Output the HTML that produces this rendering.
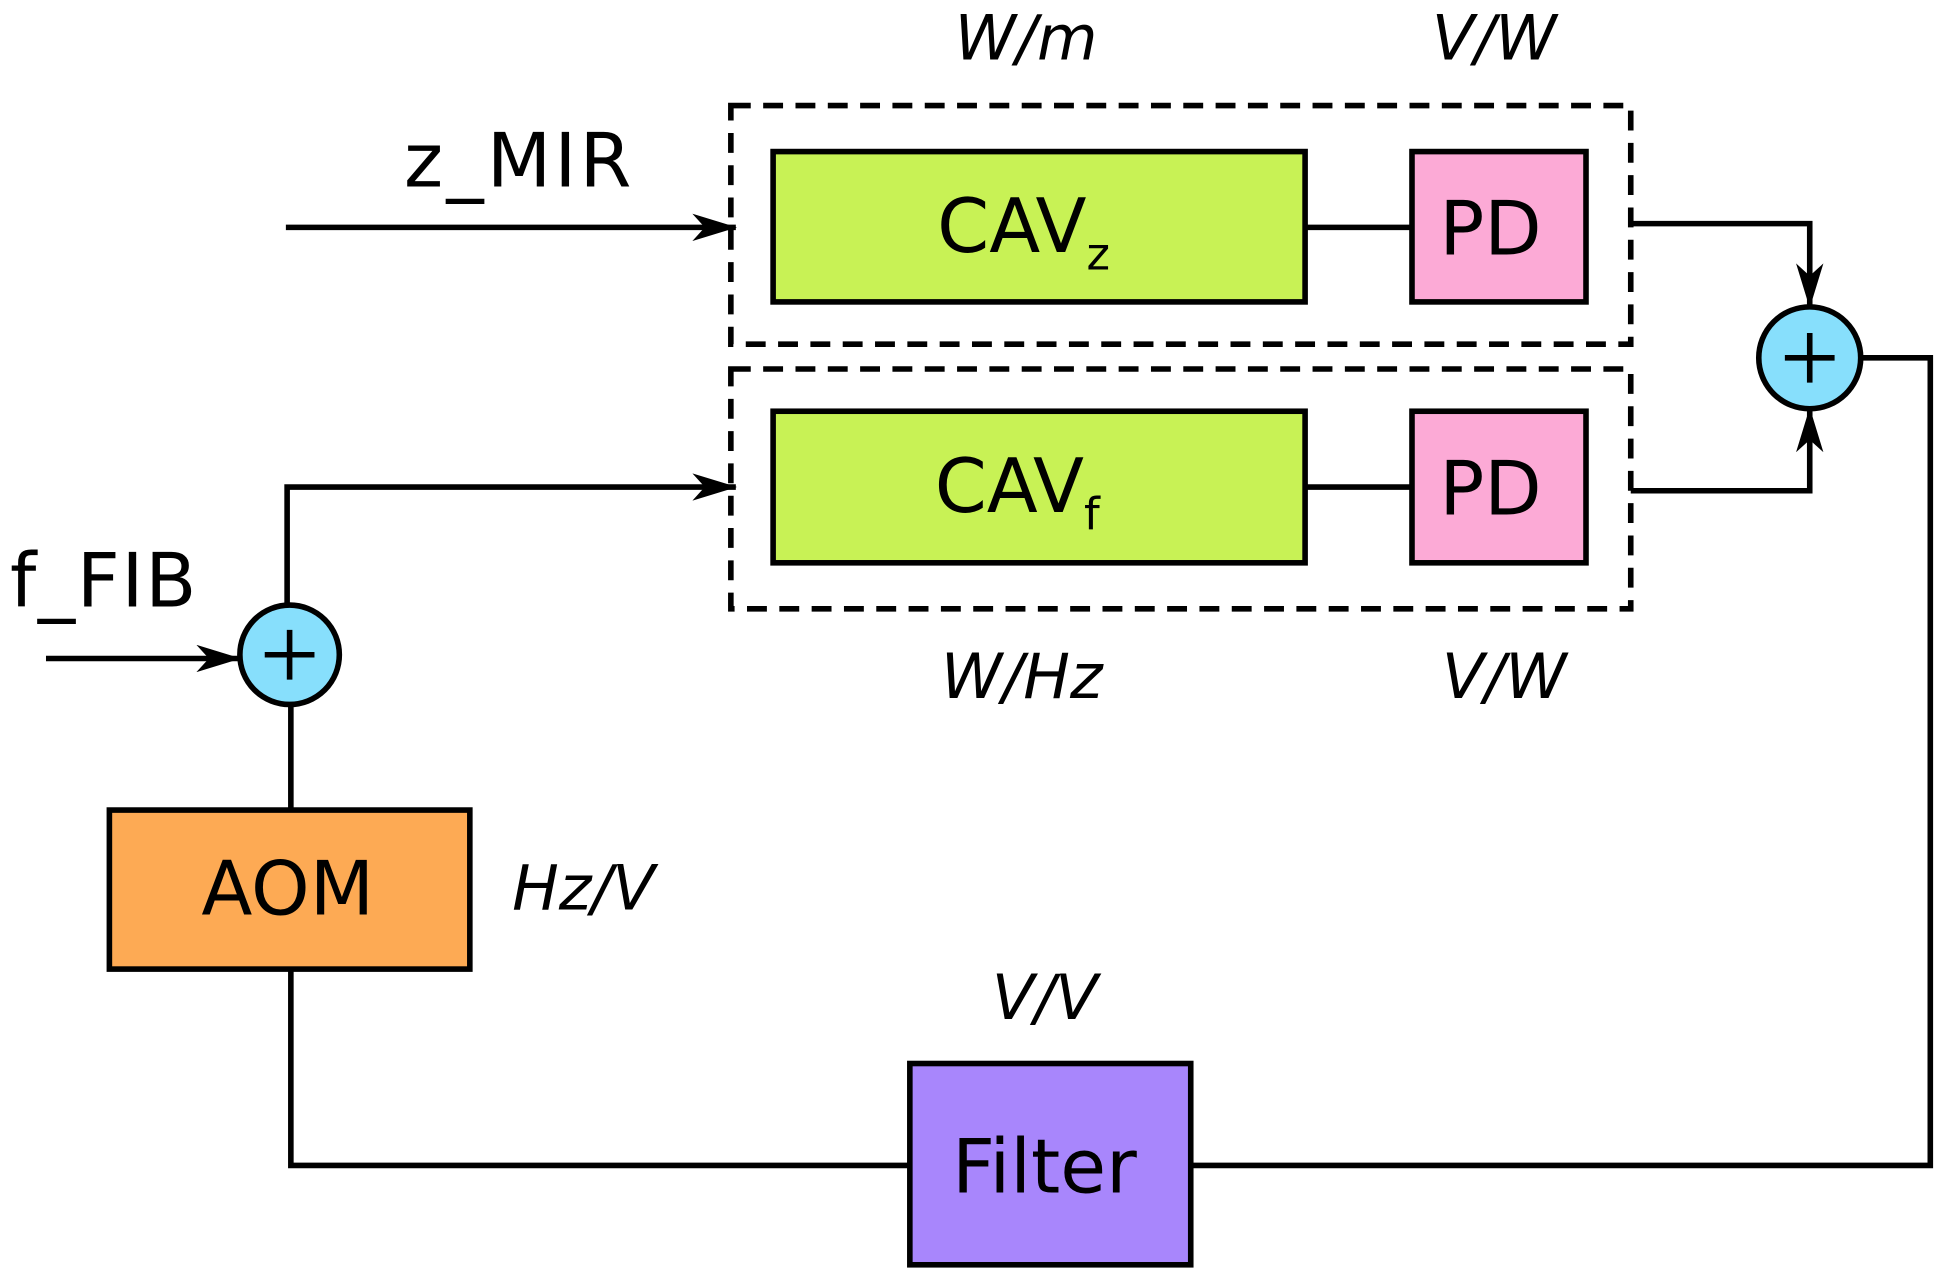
<!DOCTYPE html>
<html><head><style>body{margin:0;background:#fff}svg{display:block}</style></head>
<body>
<svg width="1939" height="1271" viewBox="0 0 1560 1023" preserveAspectRatio="none" xmlns="http://www.w3.org/2000/svg" font-family="DejaVu Sans, Liberation Sans, sans-serif">
<defs><marker id="a" viewBox="0 0 36 22" refX="35" refY="11" markerWidth="36" markerHeight="22" markerUnits="userSpaceOnUse" orient="auto"><path d="M0,0 L36,11 L0,22 L10,11 z" fill="#000"/></marker></defs>
<g fill="none" stroke="#000" stroke-width="4.5">
<rect x="588" y="85" width="724" height="192" stroke-dasharray="16,10"/>
<rect x="588" y="297" width="724" height="193" stroke-dasharray="16,10"/>
<line x1="230" y1="183" x2="592" y2="183" marker-end="url(#a)"/>
<line x1="1050" y1="183" x2="1136" y2="183"/>
<line x1="1050" y1="392" x2="1136" y2="392"/>
<polyline points="1312,180 1456,180 1456,247" marker-end="url(#a)"/>
<polyline points="1312,395 1456,395 1456,329" marker-end="url(#a)"/>
<polyline points="1497,288 1553,288 1553,938 958,938"/>
<polyline points="732,938 234,938 234,780"/>
<line x1="234" y1="652" x2="234" y2="568"/>
<polyline points="231,487 231,392 592,392" marker-end="url(#a)"/>
<line x1="37" y1="530" x2="193" y2="530" marker-end="url(#a)"/>
</g>
<g stroke="#000" stroke-width="4.5">
<rect x="622" y="122" width="428" height="121" fill="#c8f255"/>
<rect x="1136" y="122" width="140" height="121" fill="#fcaad6"/>
<rect x="622" y="331" width="428" height="122" fill="#c8f255"/>
<rect x="1136" y="331" width="140" height="122" fill="#fcaad6"/>
<rect x="732" y="856" width="226" height="162" fill="#a886fc"/>
<rect x="88" y="652" width="290" height="128" fill="#fdaa54"/>
<circle cx="1456" cy="288" r="41" fill="#87dffc"/>
<circle cx="233" cy="527" r="40" fill="#87dffc"/>
<path d="M1456,268 V308 M1436,288 H1476 M233,507 V547 M213,527 H253" fill="none"/>
</g>
<g font-size="60" fill="#000">
<text x="754" y="203">CAV<tspan font-size="36" dy="14">z</tspan></text>
<text x="752" y="412">CAV<tspan font-size="36" dy="14">f</tspan></text>
<text x="1158" y="205">PD</text>
<text x="1158" y="414">PD</text>
<text x="766" y="960">Filter</text>
<text x="162" y="736">AOM</text>
<text x="325" y="150" textLength="183">z_MIR</text>
<text x="8" y="488" textLength="150">f_FIB</text>
</g>
<g font-size="50" font-style="italic" fill="#000">
<text x="768" y="48">W/m</text>
<text x="1152" y="48">V/W</text>
<text x="757" y="562">W/Hz</text>
<text x="1160" y="562">V/W</text>
<text x="412" y="732">Hz/V</text>
<text x="798" y="820">V/V</text>
</g>
</svg>
</body></html>
